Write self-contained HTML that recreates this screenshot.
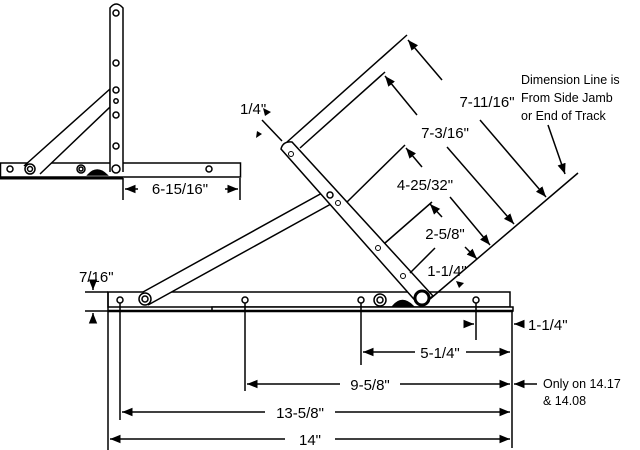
<!DOCTYPE html>
<html><head><meta charset="utf-8"><style>
html,body{margin:0;padding:0;background:#fff;}
svg{display:block;font-family:"Liberation Sans",Arial,sans-serif;}
</style></head><body>
<svg width="640" height="450" viewBox="0 0 640 450" xmlns="http://www.w3.org/2000/svg">
<defs>
<marker id="a" viewBox="0 0 10 10" refX="10" refY="5" markerWidth="7" markerHeight="7" orient="auto-start-reverse"><path d="M0,1 L10,5 L0,9 z" fill="#000"/></marker>
</defs>
<g fill="none" stroke="#000" stroke-width="1.5">
<!-- inset top-left -->
<rect x="0.5" y="163" width="240" height="14" fill="#fff"/>
<line x1="0" y1="178" x2="123" y2="178" stroke-width="3"/>
<path d="M24,166 L110,89 L110,107 L40,174" fill="#fff"/>
<path d="M110,172 L110,8 Q116,0 123,8 L123,172" fill="#fff"/>
<circle cx="116" cy="13" r="3"/><circle cx="116" cy="63" r="3"/><circle cx="116" cy="90" r="3"/><circle cx="116" cy="101" r="2.2"/><circle cx="116" cy="115" r="3"/><circle cx="116" cy="146" r="3"/>
<circle cx="116" cy="169" r="4"/><circle cx="10" cy="169" r="3"/><circle cx="30" cy="169" r="5" fill="#fff"/><circle cx="30" cy="169" r="2.5"/>
<circle cx="81" cy="169" r="4"/><circle cx="81" cy="169" r="2"/><circle cx="209" cy="169" r="3"/>
<path d="M88,175 Q97,165 107,175 z" fill="#000"/>
<line x1="123" y1="178" x2="123" y2="200"/><line x1="240" y1="178" x2="240" y2="200"/>
<line x1="138" y1="189" x2="125" y2="189" marker-end="url(#a)"/><line x1="225" y1="189" x2="238" y2="189" marker-end="url(#a)"/>

<!-- main track -->
<rect x="108" y="292" width="402" height="15" fill="#fff"/>
<rect x="212" y="307" width="301" height="4" fill="#fff"/>
<line x1="108" y1="311" x2="513" y2="311" stroke-width="2.5"/>
<!-- long strut -->
<path d="M143,292 L333,187 L340,199 L148,305" fill="#fff"/>
<circle cx="145" cy="299" r="6" fill="#fff"/><circle cx="145" cy="299" r="3"/>
<!-- main arm -->
<path d="M281,149 Q283,141 292,142 L433,296 L420,306 Z" fill="#fff"/>
<circle cx="330" cy="195" r="3"/>
<g stroke-width="1"><circle cx="291" cy="154" r="2.5"/><circle cx="338" cy="203" r="2.5"/><circle cx="378" cy="248" r="2.5"/><circle cx="403" cy="276" r="2.5"/></g>
<circle cx="422" cy="298" r="7" fill="#fff" stroke-width="3"/>
<path d="M393,306 Q402,295 413,306 z" fill="#000"/>
<circle cx="380" cy="300" r="6" fill="#fff"/><circle cx="380" cy="300" r="3"/>
<circle cx="120" cy="300" r="3"/><circle cx="245" cy="300" r="3"/><circle cx="361" cy="300" r="3"/><circle cx="476" cy="300" r="3"/>

<!-- vertical extension lines -->
<line x1="108" y1="292" x2="108" y2="450"/>
<line x1="120" y1="303" x2="120" y2="420"/>
<line x1="245" y1="303" x2="245" y2="391"/>
<line x1="361" y1="303" x2="361" y2="365"/>
<line x1="476" y1="303" x2="476" y2="340"/>
<line x1="512" y1="311" x2="512" y2="448"/>
<!-- horizontal dims -->
<line x1="415" y1="352" x2="363" y2="352" marker-end="url(#a)"/><line x1="466" y1="352" x2="510" y2="352" marker-end="url(#a)"/>
<line x1="340" y1="384" x2="247" y2="384" marker-end="url(#a)"/><line x1="400" y1="384" x2="510" y2="384" marker-end="url(#a)"/>
<line x1="265" y1="412" x2="122" y2="412" marker-end="url(#a)"/><line x1="335" y1="412" x2="510" y2="412" marker-end="url(#a)"/>
<line x1="285" y1="439" x2="110" y2="439" marker-end="url(#a)"/><line x1="335" y1="439" x2="510" y2="439" marker-end="url(#a)"/>
<line x1="466" y1="324" x2="474" y2="324" marker-end="url(#a)"/><line x1="522" y1="324" x2="514" y2="324" marker-end="url(#a)"/>
<line x1="537" y1="384" x2="514" y2="384" marker-end="url(#a)"/>
<!-- 7/16 -->
<line x1="85" y1="292" x2="108" y2="292"/><line x1="85" y1="311" x2="108" y2="311"/>
<line x1="93" y1="283" x2="93" y2="290" marker-end="url(#a)"/><line x1="93" y1="321" x2="93" y2="313" marker-end="url(#a)"/>

<!-- diagonal baseline -->
<line x1="430" y1="299" x2="578" y2="173"/>
<!-- extension lines perpendicular -->
<line x1="287" y1="142" x2="407" y2="35"/>
<line x1="300" y1="148" x2="385" y2="72"/>
<line x1="347" y1="202" x2="405" y2="145"/>
<line x1="385" y1="243" x2="432" y2="202"/>
<line x1="410" y1="273" x2="435" y2="248"/>
<line x1="262" y1="120" x2="282" y2="141"/>
<!-- dim arrows -->
<line x1="442" y1="80" x2="408" y2="40" marker-end="url(#a)"/><line x1="480" y1="120" x2="546" y2="197" marker-end="url(#a)"/>
<line x1="417" y1="115" x2="385" y2="76" marker-end="url(#a)"/><line x1="447" y1="147" x2="514" y2="224" marker-end="url(#a)"/>
<line x1="422" y1="167" x2="406" y2="148" marker-end="url(#a)"/><line x1="450" y1="197" x2="490" y2="245" marker-end="url(#a)"/>
<line x1="442" y1="217" x2="430" y2="204" marker-end="url(#a)"/><line x1="465" y1="247" x2="477" y2="259" marker-end="url(#a)"/>
<line x1="548" y1="125" x2="565" y2="174" marker-end="url(#a)"/>
</g>
<path d="M456,281 l8,2 l-5,5 z M263,108 l8,4 l-6,4z M262,134 l-6,4 l1,-7z" fill="#000"/>
<g font-size="15" fill="#000">
<text x="487" y="107" text-anchor="middle">7-11/16"</text>
<text x="445" y="138" text-anchor="middle">7-3/16"</text>
<text x="425" y="190" text-anchor="middle">4-25/32"</text>
<text x="445" y="239" text-anchor="middle">2-5/8"</text>
<text x="447" y="276" text-anchor="middle">1-1/4"</text>
<text x="240" y="114">1/4"</text>
<text x="79" y="282">7/16"</text>
<text x="180" y="194" text-anchor="middle">6-15/16"</text>
<text x="440" y="358" text-anchor="middle">5-1/4"</text>
<text x="370" y="390" text-anchor="middle">9-5/8"</text>
<text x="300" y="418" text-anchor="middle">13-5/8"</text>
<text x="310" y="445" text-anchor="middle">14"</text>
<text x="528" y="330">1-1/4"</text>
</g>
<g font-size="12.5" fill="#000">
<text x="521" y="84">Dimension Line is</text>
<text x="521" y="102">From Side Jamb</text>
<text x="521" y="120">or End of Track</text>
<text x="543" y="388">Only on 14.17</text>
<text x="543" y="405">&amp; 14.08</text>
</g>
</svg>
</body></html>
